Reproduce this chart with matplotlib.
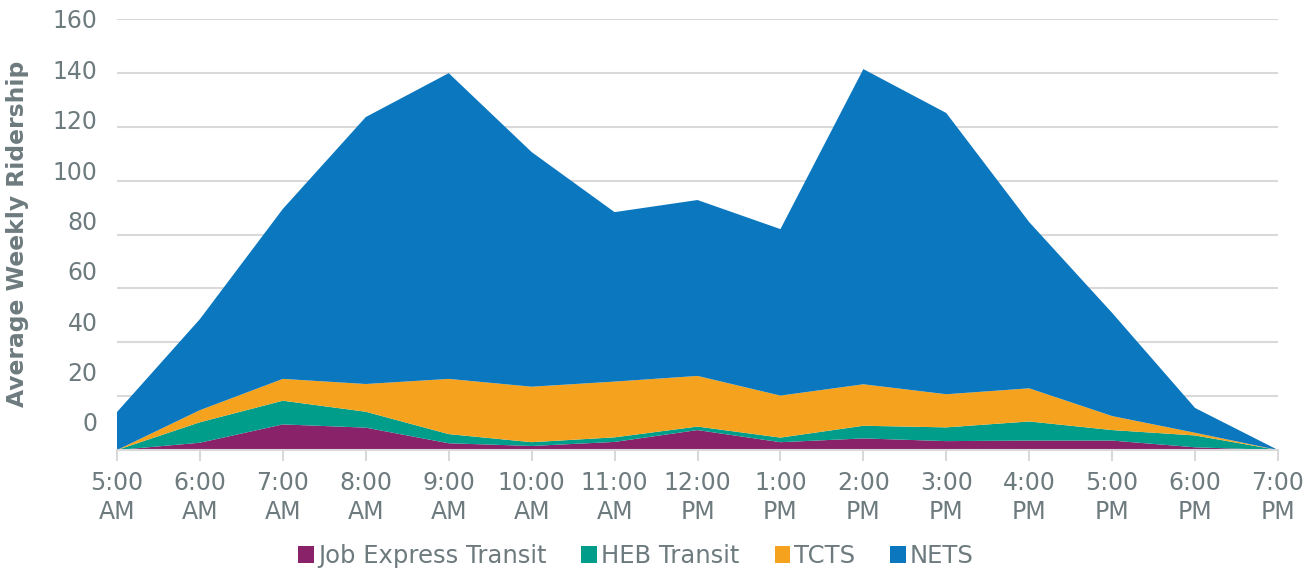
import numpy as np
import matplotlib
matplotlib.use('Agg')
import matplotlib.pyplot as plt
from matplotlib.patches import Patch

# hourly time slots
hours = ['5:00\nAM', '6:00\nAM', '7:00\nAM', '8:00\nAM', '9:00\nAM', '10:00\nAM',
         '11:00\nAM', '12:00\nPM', '1:00\nPM', '2:00\nPM', '3:00\nPM', '4:00\nPM',
         '5:00\nPM', '6:00\nPM', '7:00\nPM']

# average weekly ridership per service
job_express = [0, 2.7, 9.5, 8.3, 2.5, 1.5, 3.0, 7.4, 2.9, 4.3, 3.3, 3.5, 3.5, 1.0, 0]
heb_transit = [0, 7.6, 8.8, 5.9, 3.4, 1.4, 1.7, 1.3, 1.7, 4.7, 5.1, 7.1, 3.9, 4.4, 0]
tcts = [0, 4.5, 8.1, 10.3, 20.5, 20.6, 20.7, 18.8, 15.6, 15.4, 12.3, 12.3, 5.2, 1.0, 0]
nets = [14.1, 33.8, 63.1, 99.1, 113.5, 87.1, 62.9, 65.3, 61.8, 117.0, 104.4, 61.7, 38.3, 9.2, 0]

names = ['Job Express Transit', 'HEB Transit', 'TCTS', 'NETS']
colors = ['#8A226A', '#009E8A', '#F5A31F', '#0A77BF']
yvals = [0, 20, 40, 60, 80, 100, 120, 140, 160]

text_color = '#6D7A7E'
grid_color = '#D9D9D9'

fig = plt.figure(figsize=(13.1, 5.71), dpi=100)
ax = fig.add_axes([117 / 1310, 1 - 450 / 571, (1278 - 117) / 1310, (450 - 19) / 571])

x = np.arange(len(hours))
for v in yvals[1:]:
    ax.axhline(v, color=grid_color, lw=1.5, zorder=0)

ax.stackplot(x, job_express, heb_transit, tcts, nets, colors=colors,
             linewidth=0, zorder=2)

ax.set_xlim(0, len(hours) - 1)
ax.set_ylim(0, 160)
ax.set_xticks(x)
ax.set_xticklabels(hours, fontsize=17, color=text_color, linespacing=1.25)
ax.tick_params(axis='x', length=8, width=1.5, color=grid_color, pad=7)

# value labels sit a little off the gridlines
ax.set_yticks([10.4 + v * 0.935 for v in yvals])
ax.set_yticklabels([str(v) for v in yvals], fontsize=17, color=text_color)
ax.tick_params(axis='y', length=0, pad=14)

for s in ['top', 'right', 'left']:
    ax.spines[s].set_visible(False)
ax.spines['bottom'].set_color(grid_color)
ax.spines['bottom'].set_linewidth(1.5)
ax.spines['bottom'].set_zorder(3)

ax.set_ylabel('Average Weekly Ridership', fontsize=16.8, fontweight='bold',
              color=text_color)
ax.yaxis.set_label_coords(-(117 - 29) / 1161, (450 - 234) / 431)

handles = [Patch(facecolor=c, edgecolor='none') for c in colors]
fig.legend(handles, names, loc='center', bbox_to_anchor=(636 / 1310, 1 - 556 / 571),
           ncol=4, frameon=False, fontsize=17.5, labelcolor=text_color,
           handlelength=0.65, handleheight=0.65, handletextpad=0.15,
           columnspacing=1.45)

fig.savefig('out.png', dpi=100)
